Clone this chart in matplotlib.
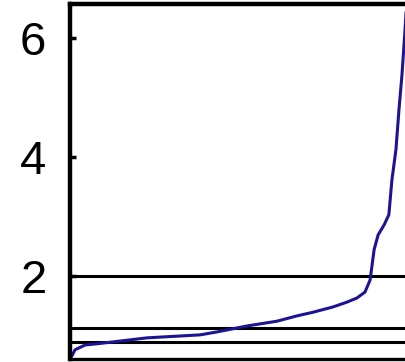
import numpy as np
import matplotlib
matplotlib.use("Agg")
import matplotlib.pyplot as plt

# sorted curve, x as percent of the visible range
xs = [0.6, 1.5, 4.5, 8.0, 22.9, 38.7, 43.8, 52.7, 61.6, 67.6, 72.3, 78.3,
      82.4, 85.4, 87.8, 89.3, 89.9, 90.5, 91.7, 93.5, 94.9, 95.8, 97.0,
      97.9, 98.8, 99.7, 100.0]
ys = [0.66, 0.76, 0.84, 0.86, 0.96, 1.01, 1.06, 1.16, 1.24, 1.33, 1.39, 1.48,
      1.56, 1.63, 1.73, 1.93, 2.18, 2.44, 2.69, 2.86, 3.03, 3.61, 4.12,
      4.79, 5.38, 6.13, 6.42]
ref_levels = [2.0, 1.13, 0.89]
yticks = [2, 4, 6]

W, H = 406, 362
fig = plt.figure(figsize=(W / 100, H / 100), dpi=100)
ax = fig.add_axes([70 / W, (H - 358.5) / H, 1.0 - 70 / W, (358.5 - 4) / H])

for lv in ref_levels:
    ax.axhline(lv, color="black", lw=2.2, zorder=1)
ax.plot(xs, ys, color="#1c1493", lw=2.2, zorder=2, clip_on=False)

ax.set_xlim(0, 100)
ax.set_ylim(0.613, 6.571)
ax.set_yticks(yticks)
ax.set_yticklabels([str(t) for t in yticks], fontsize=34, family="Liberation Sans")
ax.set_xticks([])
ax.tick_params(axis="y", direction="in", length=4, width=2.5, pad=17)

for side in ["left", "top", "bottom"]:
    ax.spines[side].set_linewidth(3.2)
ax.spines["bottom"].set_linewidth(2.4)
ax.spines["right"].set_visible(False)

fig.savefig("out.png", dpi=100)
